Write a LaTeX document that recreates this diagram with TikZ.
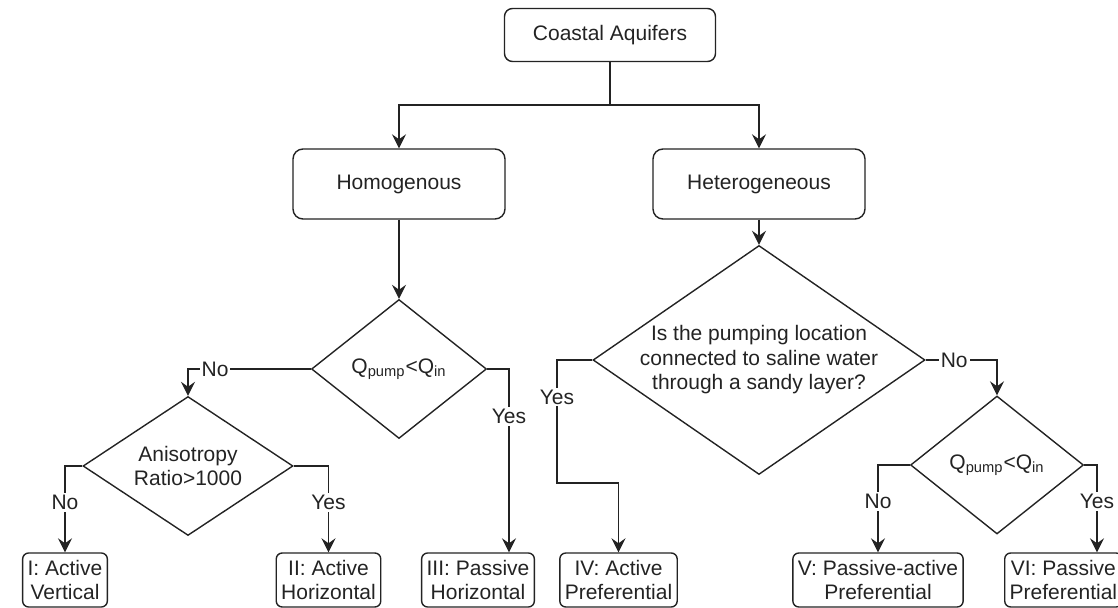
\documentclass[tikz,border=0pt]{standalone}
\usepackage{fontspec}
\setmainfont{Liberation Sans}
\usetikzlibrary{arrows.meta,calc,shapes.geometric}
\definecolor{flowink}{RGB}{35,35,35}

\begin{document}
\begin{tikzpicture}[x=0.5pt,y=-0.5pt,>={Stealth[length=7pt,width=7pt,inset=2.5pt]},
    font=\fontsize{10.5}{12.25}\selectfont,color=flowink,line width=0.7pt,
    every node/.style={align=center},
    box/.style={draw,rounded corners=4pt,minimum width=105.5pt,minimum height=26.5pt},
    leaf/.style={draw,rounded corners=3pt,inner xsep=2.5pt,inner ysep=1pt,minimum height=27pt},
    decision/.style={draw,diamond,aspect=1.5,inner sep=0pt},
    lbl/.style={fill=white,inner sep=1pt}]
    \useasboundingbox (0,0) rectangle (1118,608);
    \clip (0,0) rectangle (1118,608);
    % top of the tree
    \node[box] (coast) at (610,35) {Coastal Aquifers};
    \coordinate (split) at (610,105);
    \node[box,minimum width=106pt,minimum height=35pt,rounded corners=5pt] (homog) at (399,184) {Homogenous};
    \node[box,minimum width=106pt,minimum height=35pt,rounded corners=5pt] (heterog) at (759,184) {Heterogeneous};
    % decisions
    \node[decision,minimum width=87.5pt,minimum height=69.5pt] (qleft) at (399,369) {Q\textsubscript{pump}<Q\textsubscript{in}};
    \node[decision,minimum width=105pt,minimum height=69.5pt] (aniso) at (188,466) {Anisotropy\\Ratio>1000};
    \node[decision,minimum width=166pt,minimum height=114.5pt] (sandy) at (759,360) {};
    \node at (sandy) {Is the pumping location\\connected to saline water\\through a sandy layer?};
    \node[decision,minimum width=86.5pt,minimum height=69pt] (qright) at (997,465) {Q\textsubscript{pump}<Q\textsubscript{in}};
    % outcomes
    \node[leaf] (actvert) at (65,580) {I: Active\\Vertical};
    \node[leaf] (acthor) at (328.5,580) {II: Active\\Horizontal};
    \node[leaf] (pashor) at (478,580) {III: Passive\\Horizontal};
    \node[leaf] (actpref) at (618.5,580) {IV: Active\\Preferential};
    \node[leaf] (paspref) at (878,580) {V: Passive-active\\Preferential};
    \node[leaf,anchor=west] (passpref) at (1004,580) {VI: Passive\\Preferential};
    % connectors
    \draw (coast) -- (split);
    \draw[->] (split) -| (homog);
    \draw[->] (split) -| (heterog);
    \draw[->] (homog) -- (qleft);
    \draw[->] (heterog) -- (sandy);
    \draw[->] (qleft.west) -| node[lbl,pos=0.39]{No} (aniso.north);
    \draw[->] (aniso.west) -| node[lbl,pos=0.71]{No} (actvert.north);
    \draw[->] (aniso.east) -| node[lbl,pos=0.71]{Yes} (acthor.north);
    \draw[->] (qleft.east) -| node[lbl,pos=0.63]{Yes} ($(pashor.north)+(31,0)$);
    \coordinate (bend) at (557,483);
    \draw[->] (sandy.west) -| node[lbl,pos=0.65]{Yes} (bend) -| (actpref.north);
    \draw[->] (sandy.east) -| node[lbl,pos=0.2]{No} (qright.north);
    \draw[->] (qright.west) -| node[lbl,pos=0.71]{No} (paspref.north);
    \draw[->] (qright.east) -| node[lbl,pos=0.71]{Yes} ($(passpref.north west)+(93,0)$);
\end{tikzpicture}
\end{document}
